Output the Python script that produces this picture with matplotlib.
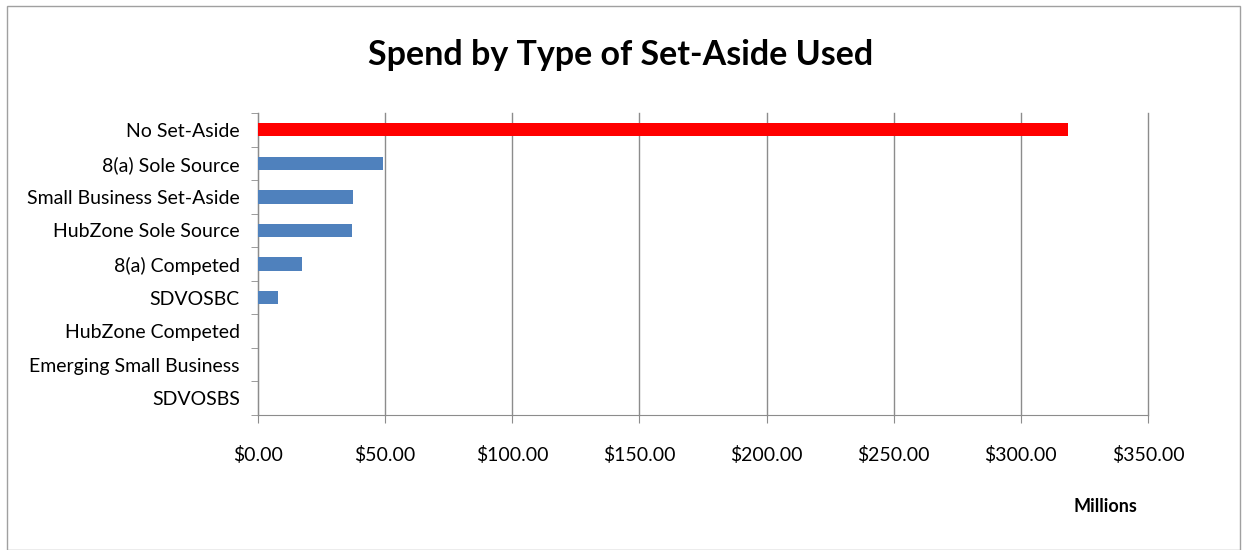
import matplotlib
matplotlib.use("Agg")
import matplotlib.pyplot as plt
from matplotlib.patches import Rectangle
from matplotlib.ticker import FuncFormatter, MultipleLocator, FixedLocator
import numpy as np

categories = ["No Set-Aside", "8(a) Sole Source", "Small Business Set-Aside",
              "HubZone Sole Source", "8(a) Competed", "SDVOSBC",
              "HubZone Competed", "Emerging Small Business", "SDVOSBS"]
values = [318.5, 49.2, 37.4, 37.0, 17.3, 7.9, 0.0, 0.0, 0.0]
colors = ["#FF0000"] + ["#4F81BD"] * 8

plt.rcParams['font.family'] = ['Lato', 'DejaVu Sans']

fig = plt.figure(figsize=(12.42, 5.5), dpi=100)
fig.patches.append(Rectangle((7/1242, 0), 1233/1242, 544/550, transform=fig.transFigure,
                             fill=False, edgecolor="#A0A0A0", linewidth=1))
ax = fig.add_axes([258/1242, 1 - 415/550, 890/1242, 302/550])

y = np.arange(len(categories))
ax.barh(y, values, height=0.4, color=colors, zorder=3)
ax.set_ylim(len(categories) - 0.5, -0.5)
ax.set_xlim(0, 350)
ax.xaxis.set_major_locator(MultipleLocator(50))
ax.xaxis.set_major_formatter(FuncFormatter(lambda v, p: f"${v:,.2f}"))
ax.grid(axis='x', color="#8C8C8C", linewidth=1, zorder=0)
for gl in ax.get_xgridlines():
    gl.set_clip_on(False)

ax.set_yticks(y)
ax.set_yticklabels(categories, fontsize=14)
ax.yaxis.set_minor_locator(FixedLocator(np.arange(-0.5, len(categories), 1)))
ax.tick_params(axis='y', which='major', length=0, pad=13)
ax.tick_params(axis='y', which='minor', length=5, color="#8C8C8C", direction='out')
ax.tick_params(axis='x', length=6, color="#8C8C8C", labelsize=14, pad=16)

for s in ["top", "right"]:
    ax.spines[s].set_visible(False)
for s in ["left", "bottom"]:
    ax.spines[s].set_color("#8C8C8C")

fig.text(0.5, 1 - 55/550, "Spend by Type of Set-Aside Used", ha='center', va='center',
         fontsize=24.5, fontweight='bold')
fig.text(1105/1242, 1 - 507/550, "Millions", ha='center', va='center',
         fontsize=13, fontweight='bold')

fig.savefig("out.png", dpi=100)
